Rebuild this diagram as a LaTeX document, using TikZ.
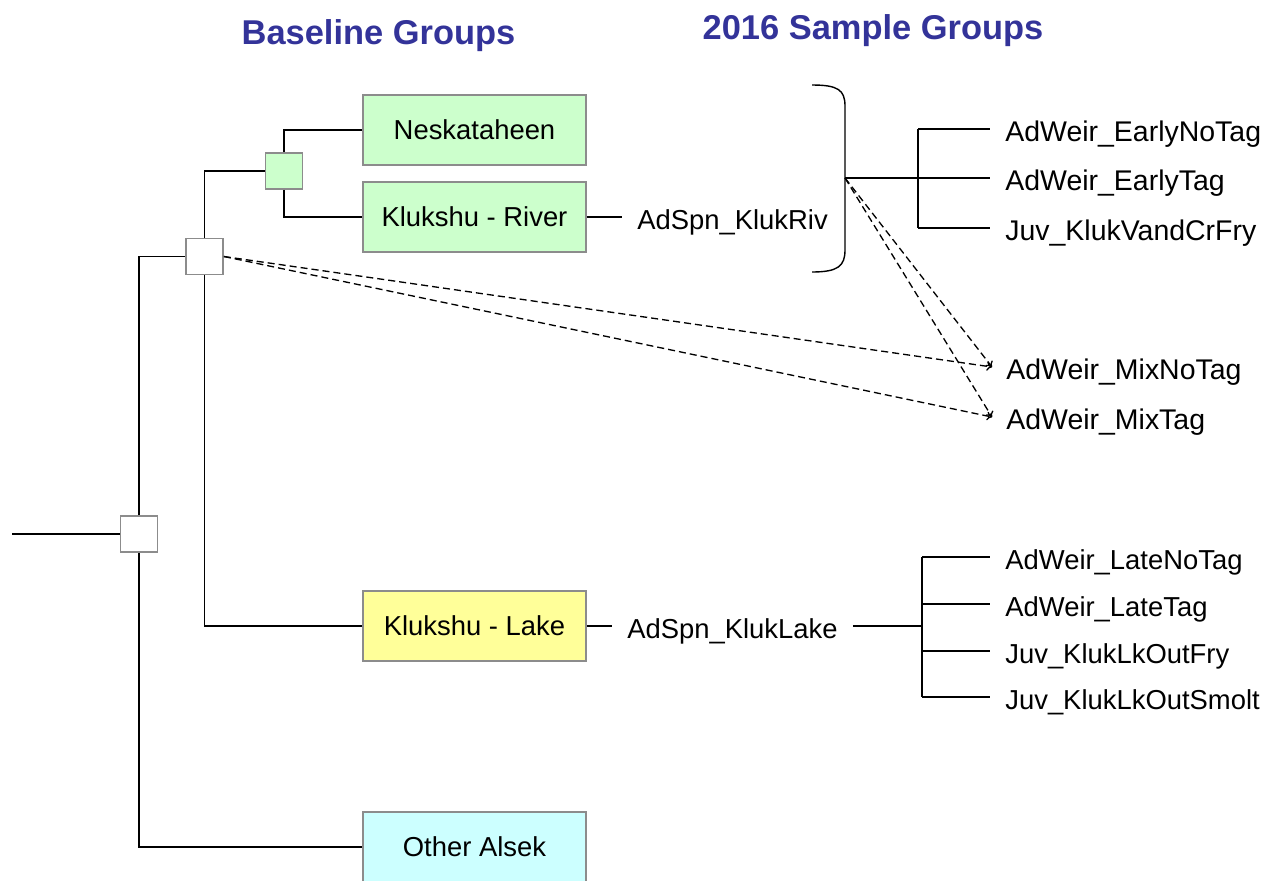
\documentclass[tikz,border=0pt]{standalone}
\usepackage{fontspec}
\setmainfont{Liberation Sans}
\usetikzlibrary{arrows.meta}
\definecolor{boxgreen}{HTML}{CCFFCC}
\definecolor{boxyellow}{HTML}{FFFF99}
\definecolor{boxcyan}{HTML}{CCFFFF}
\definecolor{titleblue}{HTML}{333399}
\definecolor{edgegray}{HTML}{8C8C8C}
\tikzset{
  grp/.style={draw=edgegray, line width=1pt, minimum width=4.46cm, minimum height=1.4cm,
    inner sep=0pt, font=\fontsize{15.6}{18}\selectfont},
  knot/.style={draw=edgegray, line width=1pt, fill=white, minimum width=0.74cm,
    minimum height=0.72cm, inner sep=0pt},
  lbl/.style={inner xsep=0.3cm, inner ysep=0pt, font=\fontsize{15.6}{18}\selectfont,
    text height=14.5pt, text depth=0.5pt},
  biglbl/.style={lbl, font=\fontsize{16.2}{19}\selectfont},
  heading/.style={font=\fontsize{19.6}{23}\selectfont\bfseries, text=titleblue},
  link/.style={line width=0.8pt},
  trunk/.style={line width=1.5pt},
  mix/.style={line width=0.75pt, dash pattern=on 4pt off 2.3pt, -{To[length=3pt,width=5pt]}},
}
\begin{document}
\begin{tikzpicture}[x=0.02cm, y=-0.02cm]
\useasboundingbox (0,0) rectangle (1264,880);

% headings
\node[heading] (h1) at (378.5,36) {Baseline Groups};
\node[heading] (h2) at (873,31) {2016 Sample Groups};

% baseline groups
\node[grp, fill=boxgreen]  (nesk)   at (474.5,130) {Neskataheen};
\node[grp, fill=boxgreen]  (kriv)   at (474.5,217) {Klukshu - River};
\node[grp, fill=boxyellow] (klake)  at (474.5,626) {Klukshu - Lake};
\node[grp, fill=boxcyan]   (oalsek) at (474.5,847) {Other Alsek};

% tree knots
\node[knot, fill=boxgreen] (k3) at (284,171) {};
\node[knot] (k2) at (204.5,256.5) {};
\node[knot] (k1) at (139,534) {};
\coordinate (root) at (12,534);

\draw[link] (root) -- (k1.west);
\draw[link] (k1.north) |- (k2.west);
\draw[link] (k1.south) |- (oalsek.west);
\draw[link] (k2.north) |- (k3.west);
\draw[link] (k2.south) |- (klake.west);
\draw[link] (k3.north) |- (nesk.west);
\draw[link] (k3.south) |- (kriv.west);

% river spawners and early samples
\node[lbl, anchor=west] (sriv) at (622,217) {AdSpn\_KlukRiv};
\draw[link] (kriv.east) -- (sriv.west);

\coordinate (bmid) at (845,178);
\draw[link] (812,85) .. controls (838,85) and (845,90) .. (845,106) -- (845,250)
  .. controls (845,266) and (838,272) .. (812,272);

\coordinate (jriv) at (918,178);
\node[biglbl, anchor=west] (e1) at (990,129) {AdWeir\_EarlyNoTag};
\node[biglbl, anchor=west] (e2) at (990,178) {AdWeir\_EarlyTag};
\node[biglbl, anchor=west] (e3) at (990,228) {Juv\_KlukVandCrFry};
\draw[trunk] (bmid) -- (jriv);
\draw[link] (jriv |- e1.west) -- (jriv |- e3.west);
\foreach \n in {e1,e2,e3} \draw[link] (jriv |- \n.west) -- (\n.west);

% mixed samples
\node[biglbl, anchor=west, inner xsep=0.28cm] (m1) at (992,367) {AdWeir\_MixNoTag};
\node[biglbl, anchor=west, inner xsep=0.28cm] (m2) at (992,417) {AdWeir\_MixTag};
\draw[mix] (k2.east) -- (m1.west);
\draw[mix] (k2.east) -- (m2.west);
\draw[mix] (bmid) -- (m1.west);
\draw[mix] (bmid) -- (m2.west);

% lake spawners and late samples
\node[lbl, anchor=west] (slake) at (612,626) {AdSpn\_KlukLake};
\draw[link] (klake.east) -- (slake.west);

\coordinate (jlake) at (922,626);
\node[lbl, anchor=west] (l1) at (990,557) {AdWeir\_LateNoTag};
\node[lbl, anchor=west] (l2) at (990,604) {AdWeir\_LateTag};
\node[lbl, anchor=west] (l3) at (990,651) {Juv\_KlukLkOutFry};
\node[lbl, anchor=west] (l4) at (990,697) {Juv\_KlukLkOutSmolt};
\draw[trunk] (slake.east) -- (jlake);
\draw[link] (jlake |- l1.west) -- (jlake |- l4.west);
\foreach \n in {l1,l2,l3,l4} \draw[link] (jlake |- \n.west) -- (\n.west);
\end{tikzpicture}
\end{document}
